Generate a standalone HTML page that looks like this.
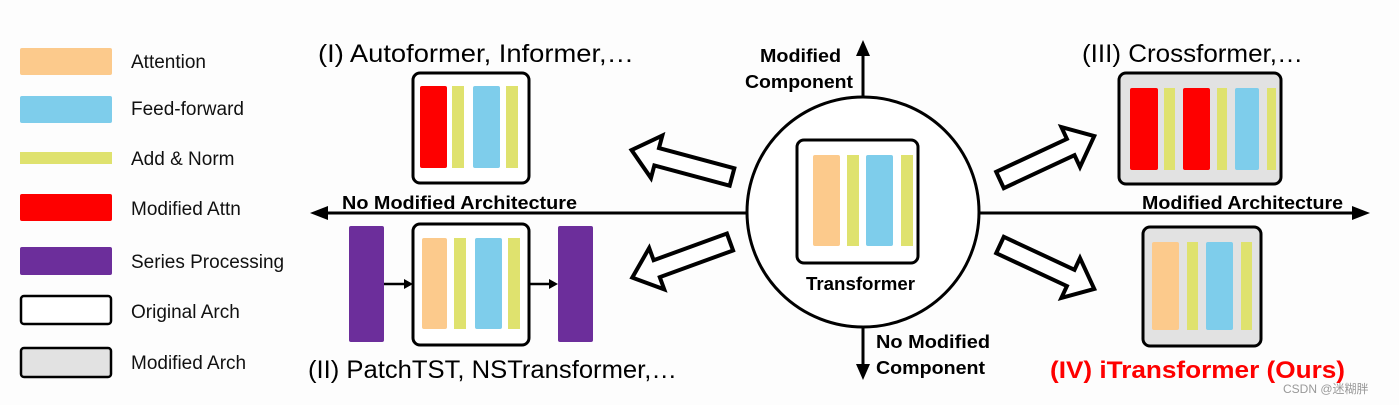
<!DOCTYPE html>
<html><head><meta charset="utf-8"><style>
html,body{margin:0;padding:0;background:#fff}
svg{display:block}
text{font-family:"Liberation Sans",sans-serif}
</style></head><body>
<svg width="1399" height="405" viewBox="0 0 1399 405" xmlns="http://www.w3.org/2000/svg">
<rect width="1399" height="405" fill="#fdfdfd"/>
<defs>
<polygon id="ha" points="0,-9 78,-9 78,-22 104,0 78,22 78,9 0,9" fill="#fff" stroke="#000" stroke-width="4" stroke-linejoin="miter"/>
</defs>
<rect x="20" y="48" width="92" height="27" rx="2" fill="#fcca8c"/>
<rect x="20" y="96" width="92" height="27" rx="2" fill="#7ecdeb"/>
<rect x="20" y="152" width="92" height="12" fill="#dfe26e"/>
<rect x="20" y="194" width="92" height="27" rx="2" fill="#fe0000"/>
<rect x="20" y="247" width="92" height="28" rx="2" fill="#6c2e9b"/>
<rect x="21" y="296" width="90" height="28" rx="3" fill="#fff" stroke="#000" stroke-width="2.5"/>
<rect x="21" y="348" width="90" height="29" rx="3" fill="#e2e2e2" stroke="#000" stroke-width="2.5"/>
<g font-size="19" fill="#111">
<text x="131" y="68">Attention</text>
<text x="131" y="115">Feed-forward</text>
<text x="131" y="165">Add &amp; Norm</text>
<text x="131" y="215">Modified Attn</text>
<text x="131" y="268">Series Processing</text>
<text x="131" y="318">Original Arch</text>
<text x="131" y="369">Modified Arch</text>
</g>
<line x1="320" y1="213" x2="1358" y2="213" stroke="#000" stroke-width="3"/>
<polygon points="310,213 328,206 328,220" fill="#000"/>
<polygon points="1370,213 1352,206 1352,220" fill="#000"/>
<line x1="863" y1="52" x2="863" y2="100" stroke="#000" stroke-width="3"/>
<polygon points="863,40 856,56 870,56" fill="#000"/>
<line x1="863" y1="325" x2="863" y2="368" stroke="#000" stroke-width="3"/>
<polygon points="863,380 856,364 870,364" fill="#000"/>
<ellipse cx="863" cy="212" rx="116" ry="115" fill="#fff" stroke="#000" stroke-width="3"/>
<rect x="797" y="140" width="121" height="123" rx="7" fill="#fff" stroke="#000" stroke-width="3"/>
<rect x="813" y="155" width="27" height="91" rx="2" fill="#fcca8c"/>
<rect x="847" y="155" width="12" height="91" fill="#dfe26e"/>
<rect x="866" y="155" width="27" height="91" rx="2" fill="#7ecdeb"/>
<rect x="901" y="155" width="12" height="91" fill="#dfe26e"/>
<text x="806" y="290" font-size="18" font-weight="bold" textLength="109" lengthAdjust="spacingAndGlyphs">Transformer</text>
<g font-size="18" font-weight="bold">
<text x="760" y="62" textLength="81" lengthAdjust="spacingAndGlyphs">Modified</text>
<text x="745" y="88" textLength="108" lengthAdjust="spacingAndGlyphs">Component</text>
<text x="876" y="348" textLength="114" lengthAdjust="spacingAndGlyphs">No Modified</text>
<text x="876" y="374" textLength="109" lengthAdjust="spacingAndGlyphs">Component</text>
<text x="342" y="209" textLength="235" lengthAdjust="spacingAndGlyphs">No Modified Architecture</text>
<text x="1142" y="209" textLength="201" lengthAdjust="spacingAndGlyphs">Modified Architecture</text>
</g>
<use href="#ha" transform="translate(732,177) rotate(195)"/>
<use href="#ha" transform="translate(730,242) rotate(160)"/>
<use href="#ha" transform="translate(1000,180) rotate(-25)"/>
<use href="#ha" transform="translate(1000,245) rotate(25)"/>
<text x="318" y="62" font-size="25" textLength="316" lengthAdjust="spacingAndGlyphs">(I) Autoformer, Informer,…</text>
<rect x="413" y="73" width="116" height="110" rx="7" fill="#fff" stroke="#000" stroke-width="3"/>
<rect x="420" y="86" width="27" height="82" rx="2" fill="#fe0000"/>
<rect x="452" y="86" width="12" height="82" fill="#dfe26e"/>
<rect x="473" y="86" width="27" height="82" rx="2" fill="#7ecdeb"/>
<rect x="506" y="86" width="12" height="82" fill="#dfe26e"/>
<rect x="349" y="226" width="35" height="116" rx="2" fill="#6c2e9b"/>
<rect x="558" y="226" width="35" height="116" rx="2" fill="#6c2e9b"/>
<line x1="384" y1="284" x2="406" y2="284" stroke="#000" stroke-width="2.5"/>
<polygon points="413,284 404,279 404,289" fill="#000"/>
<line x1="529" y1="284" x2="551" y2="284" stroke="#000" stroke-width="2.5"/>
<polygon points="558,284 549,279 549,289" fill="#000"/>
<rect x="413" y="224" width="116" height="121" rx="7" fill="#fff" stroke="#000" stroke-width="3"/>
<rect x="422" y="238" width="25" height="91" rx="2" fill="#fcca8c"/>
<rect x="454" y="238" width="12" height="91" fill="#dfe26e"/>
<rect x="475" y="238" width="27" height="91" rx="2" fill="#7ecdeb"/>
<rect x="508" y="238" width="12" height="91" fill="#dfe26e"/>
<text x="308" y="378" font-size="25" textLength="369" lengthAdjust="spacingAndGlyphs">(II) PatchTST, NSTransformer,…</text>
<text x="1082" y="62" font-size="25" textLength="221" lengthAdjust="spacingAndGlyphs">(III) Crossformer,…</text>
<rect x="1119" y="73" width="162" height="111" rx="7" fill="#e2e2e2" stroke="#000" stroke-width="3"/>
<rect x="1130" y="88" width="28" height="82" rx="2" fill="#fe0000"/>
<rect x="1164" y="88" width="11" height="82" fill="#dfe26e"/>
<rect x="1183" y="88" width="27" height="82" rx="2" fill="#fe0000"/>
<rect x="1217" y="88" width="10" height="82" fill="#dfe26e"/>
<rect x="1235" y="88" width="24" height="82" rx="2" fill="#7ecdeb"/>
<rect x="1267" y="88" width="9" height="82" fill="#dfe26e"/>
<rect x="1143" y="227" width="118" height="119" rx="7" fill="#e2e2e2" stroke="#000" stroke-width="3"/>
<rect x="1152" y="242" width="27" height="88" rx="2" fill="#fcca8c"/>
<rect x="1187" y="242" width="11" height="88" fill="#dfe26e"/>
<rect x="1206" y="242" width="27" height="88" rx="2" fill="#7ecdeb"/>
<rect x="1241" y="242" width="11" height="88" fill="#dfe26e"/>
<text x="1050" y="378" font-size="24" font-weight="bold" fill="#fe0000" textLength="295" lengthAdjust="spacingAndGlyphs">(IV) iTransformer (Ours)</text>
<text x="1283" y="393" font-size="12" fill="#999">CSDN @迷糊胖</text>
</svg>
</body></html>
